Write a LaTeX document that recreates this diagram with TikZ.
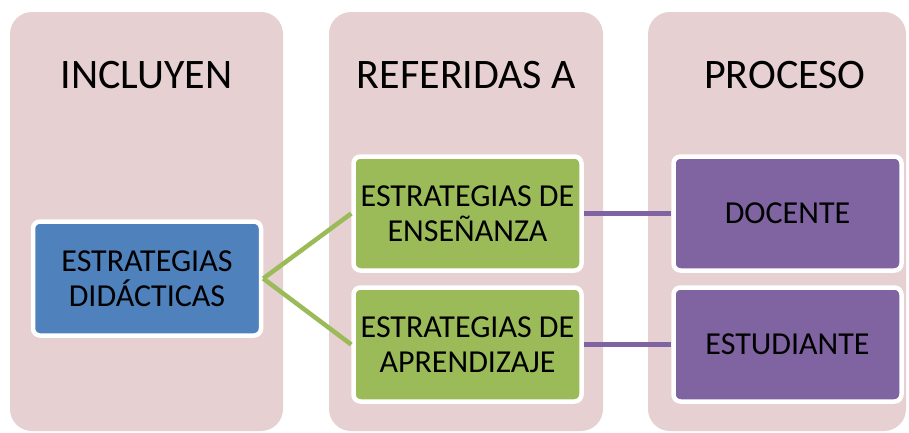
\documentclass[tikz,border=0pt]{standalone}
\usepackage{fontspec}
\setmainfont{Carlito}
\definecolor{colbg}{RGB}{231,208,209}
\definecolor{bluebox}{RGB}{79,129,189}
\definecolor{greenbox}{RGB}{155,187,89}
\definecolor{purplebox}{RGB}{128,100,162}
\begin{document}
\begin{tikzpicture}[x=1pt,y=-1pt,
  column/.style={fill=colbg,rounded corners=22pt},
  header/.style={font=\fontsize{42}{46}\selectfont,text=black},
  item/.style={draw=white,line width=4.5pt,rounded corners=7pt,minimum width=228pt,minimum height=114pt,align=center,inner sep=0pt,font=\fontsize{32}{35}\selectfont,text=black},
  gline/.style={draw=greenbox,line width=4.5pt},
  pline/.style={draw=purplebox,line width=4.5pt}]
\useasboundingbox (0,0) rectangle (909,432);
\clip (0,0) rectangle (909,432);
\fill[column] (10,12) rectangle (283,431);
\fill[column] (329,12) rectangle (603,431);
\fill[column] (648,12) rectangle (906,431);
\node[header] (h1) at (146.5,75) {INCLUYEN};
\node[header] (h2) at (466.5,75) {REFERIDAS A};
\node[header] (h3) at (785,75) {PROCESO};
\node[item,fill=bluebox] (did) at (147,278.5) {ESTRATEGIAS\\DIDÁCTICAS};
\node[item,fill=greenbox] (ens) at (467.5,213.5) {ESTRATEGIAS DE\\ENSEÑANZA};
\node[item,fill=greenbox] (apr) at (467.5,344.5) {ESTRATEGIAS DE\\APRENDIZAJE};
\node[item,fill=purplebox] (doc) at (787.5,213.5) {DOCENTE};
\node[item,fill=purplebox] (est) at (787.5,344.5) {ESTUDIANTE};
\draw[gline] (did.east) -- (ens.west);
\draw[gline] (did.east) -- (apr.west);
\draw[pline] (ens.east) -- (doc.west);
\draw[pline] (apr.east) -- (est.west);
\end{tikzpicture}
\end{document}
